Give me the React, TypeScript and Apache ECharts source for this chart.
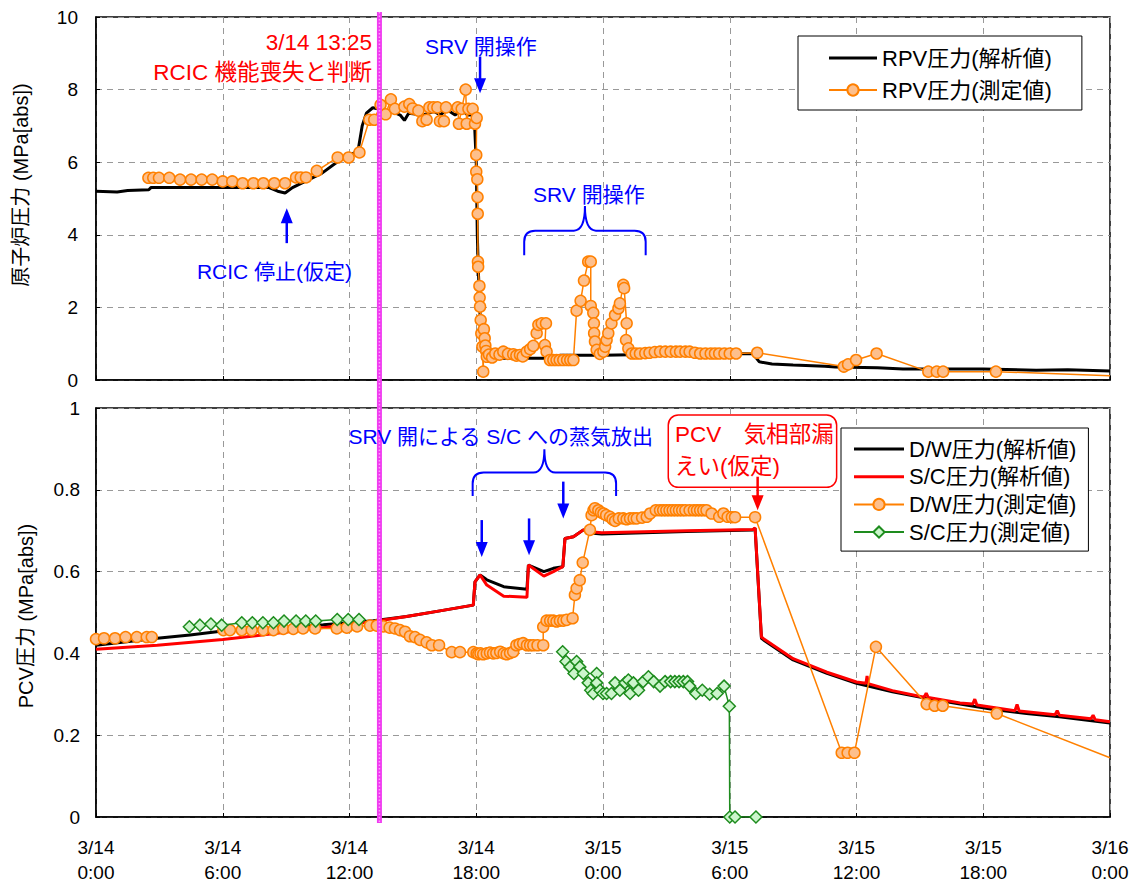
import React, { useEffect, useRef } from "react";
import * as echarts from "echarts";

const FONT = '"Liberation Sans", Arial, "Noto Sans CJK JP", sans-serif';

// x axis: hours since 3/14 0:00
const xTickLabels = [
  "3/14\n0:00", "3/14\n6:00", "3/14\n12:00", "3/14\n18:00",
  "3/15\n0:00", "3/15\n6:00", "3/15\n12:00", "3/15\n18:00", "3/16\n0:00",
];

const seriesNames = {
  rpvA: "RPV圧力(解析値)",
  rpvM: "RPV圧力(測定値)",
  dwA: "D/W圧力(解析値)",
  scA: "S/C圧力(解析値)",
  dwM: "D/W圧力(測定値)",
  scM: "S/C圧力(測定値)",
};

const rpvAnalysis: [number, number][] = [
  [0, 5.2], [1.0, 5.18], [1.5, 5.22], [2.5, 5.24], [2.6, 5.3], [8.2, 5.3], [8.6, 5.2], [8.95, 5.15],
  [9.3, 5.3], [10.0, 5.5], [10.7, 5.7], [11.4, 6.0], [12.0, 6.2], [12.4, 6.3], [12.6, 7.0], [12.8, 7.35],
  [13.1, 7.5], [13.5, 7.45], [14.0, 7.4], [14.4, 7.3], [14.6, 7.15], [14.8, 7.35], [15.5, 7.3], [16.0, 7.4],
  [16.3, 7.3], [16.6, 7.45], [17.0, 7.3], [17.3, 7.45], [17.6, 7.3], [17.9, 7.3], [18.0, 6.0], [18.05, 4.0],
  [18.1, 3.0], [18.2, 1.5], [18.3, 0.8], [18.5, 0.6], [20, 0.6], [21.5, 0.6], [22, 0.68], [24, 0.68],
  [26, 0.7], [28, 0.72], [31.1, 0.72], [31.4, 0.5], [32.0, 0.44], [33, 0.41], [34.5, 0.38], [35.0, 0.36],
  [37, 0.34], [38.2, 0.3], [42, 0.3], [44.5, 0.27], [46, 0.28], [48, 0.25],
];

const rpvMeasured: any[] = [
  [2.48, 5.57], [2.71, 5.57], [2.98, 5.57], [3.47, 5.57], [3.98, 5.52], [4.5, 5.52], [5.0, 5.52], [5.5, 5.52],
  [6.0, 5.47], [6.45, 5.47], [6.94, 5.42], [7.45, 5.42], [7.92, 5.42], [8.44, 5.42], [8.95, 5.42], [9.47, 5.58],
  [9.69, 5.58], [9.94, 5.58], [10.45, 5.76], [11.44, 6.13], [11.96, 6.13], [12.47, 6.27], [12.94, 7.17],
  [13.17, 7.17], [13.47, 7.58], [13.71, 7.32], [13.96, 7.73], [14.15, 7.47], [14.6, 7.53], [14.83, 7.6],
  [14.99, 7.48], [15.26, 7.42], [15.45, 7.13], [15.65, 7.17], [15.78, 7.51], [15.97, 7.51], [16.16, 7.51],
  [16.28, 7.13], [16.47, 7.13], [16.57, 7.51], [17.12, 7.51], [17.18, 7.06], [17.31, 7.47], [17.5, 8.0],
  [17.55, 7.06], [17.63, 7.47], [17.83, 7.47], [17.94, 7.06], [18.02, 7.22], [18.0, 6.2], [18.0, 5.74],
  [18.05, 5.53], [18.06, 5.04], [18.07, 4.58], [18.08, 3.26], [18.09, 3.12], [18.15, 2.59], [18.16, 2.27],
  [18.18, 2.02], [18.21, 1.65], [18.24, 1.28], [18.29, 0.92], [18.33, 0.23], [18.36, 1.4], [18.4, 1.15],
  [18.43, 0.95], [18.47, 0.8], [18.5, 0.64], [18.6, 0.7], [18.75, 0.62], [18.9, 0.73], [19.1, 0.7],
  [19.28, 0.78], [19.5, 0.72], [19.75, 0.71], [19.9, 0.67], [20.07, 0.69], [20.2, 0.65], [20.39, 0.78],
  [20.55, 0.85], [20.7, 0.94], [20.86, 1.29], [20.94, 1.52], [21.1, 1.56], [21.3, 1.56], [21.25, 0.96],
  [21.33, 0.78], [21.49, 0.55], [21.65, 0.55], [21.8, 0.55], [21.95, 0.55], [22.12, 0.55], [22.3, 0.55],
  [22.45, 0.55], [22.6, 0.55], [22.75, 1.91], [22.94, 2.18], [23.1, 2.74], [23.3, 3.26], [23.42, 3.26],
  [23.42, 2.04], [23.54, 1.85], [23.57, 1.56], [23.58, 1.29], [23.62, 1.06], [23.7, 0.83], [23.85, 0.72],
  [24.02, 0.78], [24.1, 0.92], [24.17, 1.1], [24.25, 1.29], [24.4, 1.56], [24.57, 1.79], [24.73, 1.97],
  [24.8, 2.11], [24.96, 2.62], [25.0, 2.53], [25.12, 1.56], [25.09, 1.1], [25.2, 0.87], [25.36, 0.73],
  [25.55, 0.73], [25.75, 0.73], [26.0, 0.74], [26.2, 0.75], [26.45, 0.77], [26.7, 0.78], [26.95, 0.78],
  [27.2, 0.78], [27.45, 0.78], [27.65, 0.78], [27.9, 0.78], [28.1, 0.78], [28.35, 0.75], [28.6, 0.73],
  [28.85, 0.73], [29.1, 0.73], [29.3, 0.73], [29.5, 0.73], [29.75, 0.73], [30.0, 0.73], [30.3, 0.73],
  [31.3, 0.75], [35.4, 0.37], [35.6, 0.43], [35.98, 0.55], [36.95, 0.73], [39.4, 0.23], [39.8, 0.23],
  [40.1, 0.23], [42.6, 0.23], { value: [48, 0.12], symbol: "none" },
];

const dwAnalysis: [number, number][] = [
  [0, 0.42], [2.9, 0.437], [4.45, 0.445], [6.0, 0.455], [8.55, 0.461], [10.76, 0.47], [13.13, 0.48],
  [14.7, 0.49], [16.28, 0.504], [17.86, 0.518], [17.94, 0.575], [18.18, 0.592], [18.5, 0.58], [19.3, 0.563],
  [20.4, 0.557], [20.47, 0.616], [21.2, 0.6], [21.65, 0.608], [22.1, 0.612], [22.2, 0.681], [22.6, 0.685],
  [23.07, 0.702], [23.54, 0.694], [23.94, 0.692], [27.96, 0.698], [31.1, 0.702], [31.2, 0.706], [31.5, 0.437],
  [31.6, 0.433], [33.0, 0.384], [34.6, 0.351], [36.0, 0.327], [37.7, 0.306], [39.3, 0.29], [40.9, 0.276],
  [42.5, 0.263], [44.05, 0.253], [45.6, 0.245], [48, 0.23],
];

const scAnalysis: [number, number][] = [
  [0, 0.41], [2.9, 0.42], [6.0, 0.434], [8.55, 0.449], [10.76, 0.463], [13.13, 0.478], [14.7, 0.49],
  [16.28, 0.504], [17.86, 0.518], [17.94, 0.575], [18.18, 0.592], [18.5, 0.567], [19.3, 0.54], [20.4, 0.537],
  [20.47, 0.616], [21.2, 0.589], [21.65, 0.6], [22.1, 0.612], [22.2, 0.681], [22.6, 0.685], [23.07, 0.702],
  [23.54, 0.697], [23.94, 0.695], [27.96, 0.7], [31.1, 0.703], [31.2, 0.707], [31.5, 0.44], [31.6, 0.436],
  [33.0, 0.387], [34.6, 0.354], [36.0, 0.33], [36.45, 0.327], [36.5, 0.345], [36.55, 0.326], [37.7, 0.309],
  [39.2, 0.293], [39.3, 0.303], [39.4, 0.292], [40.9, 0.279], [41.5, 0.276], [41.6, 0.288], [41.7, 0.274],
  [43.5, 0.26], [43.6, 0.275], [43.7, 0.259], [45.4, 0.25], [45.5, 0.26], [45.6, 0.249], [47.1, 0.24],
  [47.2, 0.249], [47.3, 0.238], [48, 0.233],
];

const dwMeasured: any[] = [
  [0.0, 0.435], [0.38, 0.437], [0.9, 0.437], [1.4, 0.44], [1.93, 0.44], [2.4, 0.44], [2.64, 0.44], [3.0, "-"],
  [6.03, 0.457], [6.34, 0.457], [6.9, 0.457], [7.37, 0.457], [7.92, 0.457], [8.4, 0.457], [8.87, 0.46],
  [9.34, 0.46], [9.8, 0.461], [10.37, 0.461], [11.4, 0.461], [11.87, 0.463], [12.36, 0.466], [12.97, 0.468],
  [13.29, 0.468], [13.6, 0.466], [13.9, 0.463], [14.15, 0.461], [14.39, 0.457], [14.63, 0.453], [14.86, 0.442],
  [15.1, 0.44], [15.34, 0.433], [15.65, 0.427], [15.9, 0.42], [16.24, 0.42], [16.84, 0.403], [17.23, 0.403],
  [17.86, 0.403], [18.02, 0.4], [18.1, 0.398], [18.2, 0.4], [18.33, 0.398], [18.5, 0.4], [18.65, 0.402],
  [18.8, 0.4], [18.95, 0.401], [19.13, 0.404], [19.3, 0.4], [19.44, 0.398], [19.6, 0.401], [19.75, 0.404],
  [19.9, 0.42], [20.05, 0.423], [20.22, 0.425], [20.4, 0.42], [20.55, 0.42], [20.7, 0.42], [20.9, 0.42],
  [21.17, 0.42], [21.17, 0.465], [21.33, 0.48], [21.5, 0.48], [21.65, 0.48], [21.8, 0.478], [21.96, 0.48],
  [22.12, 0.48], [22.28, 0.482], [22.56, 0.486], [22.67, 0.543], [22.75, 0.559], [22.9, 0.579],
  [23.04, 0.622], [23.38, 0.702], [23.46, 0.738], [23.55, 0.75], [23.62, 0.755], [23.78, 0.75],
  [23.9, 0.745], [24.02, 0.742], [24.15, 0.738], [24.33, 0.734], [24.45, 0.728], [24.57, 0.724],
  [24.75, 0.73], [24.96, 0.73], [25.12, 0.728], [25.28, 0.73], [25.45, 0.73], [25.6, 0.73], [25.85, 0.732],
  [26.07, 0.734], [26.23, 0.742], [26.5, 0.75], [26.7, 0.75], [26.85, 0.75], [27.0, 0.75], [27.15, 0.75],
  [27.3, 0.75], [27.45, 0.75], [27.6, 0.75], [27.75, 0.75], [27.9, 0.75], [28.1, 0.75], [28.3, 0.75],
  [28.45, 0.75], [28.6, 0.75], [28.75, 0.75], [28.9, 0.75], [29.14, 0.742], [29.5, 0.734], [29.7, 0.742],
  [29.9, 0.734], [30.1, 0.733], [30.25, 0.733], [31.2, 0.733], [35.3, 0.157], [35.58, 0.157], [35.9, 0.157],
  [36.92, 0.416], [39.32, 0.276], [39.7, 0.272], [40.08, 0.272], [42.64, 0.253],
  { value: [48, 0.145], symbol: "none" },
];

const scMeasured: any[] = [
  [4.42, 0.465], [4.92, 0.469], [5.44, 0.472], [5.95, 0.469], [6.9, 0.475], [7.4, 0.475], [7.9, 0.475],
  [8.4, 0.475], [8.9, 0.479], [9.47, 0.479], [9.93, 0.479], [10.4, 0.479], [11.42, 0.483], [11.94, 0.483],
  [12.45, 0.483], [12.6, "-"],
  [22.09, 0.404], [22.25, 0.38], [22.44, 0.367], [22.63, 0.351], [22.75, 0.38], [22.9, 0.367], [23.07, 0.351],
  [23.3, 0.328], [23.42, 0.31], [23.54, 0.302], [23.7, 0.351], [23.7, 0.328], [23.86, 0.31], [24.0, 0.302],
  [24.17, 0.302], [24.4, 0.302], [24.57, 0.328], [24.8, 0.31], [25.04, 0.328], [25.2, 0.335], [25.28, 0.302],
  [25.44, 0.328], [25.68, 0.31], [25.9, 0.331], [26.15, 0.343], [26.4, 0.331], [26.7, 0.32], [26.94, 0.331],
  [27.2, 0.331], [27.4, 0.331], [27.6, 0.331], [27.8, 0.331], [28.0, 0.331], [28.1, 0.32], [28.4, 0.302],
  [28.7, 0.31], [29.05, 0.3], [29.4, 0.302], [29.73, 0.32], [29.98, 0.271], [30.0, 0], [30.25, 0], [31.24, 0],
];

// annotation anchors in data coordinates [hours, value]
const magentaHour = 13.417;

function makeBrace(w: number, h: number): string {
  const m = h / 2;
  const cx = w / 2;
  const r = 11;
  return (
    `M0 ${h} L0 ${m + r} Q0 ${m} ${r} ${m} L${cx - r} ${m} Q${cx} ${m} ${cx} 0 ` +
    `Q${cx} ${m} ${cx + r} ${m} L${w - r} ${m} Q${w} ${m} ${w} ${m + r} L${w} ${h}`
  );
}

const lineIcon = "path://M0,0 L48,0 L48,3 L0,3 Z";

export default function App() {
  const ref = useRef<HTMLDivElement>(null);

  useEffect(() => {
    const chart = echarts.init(ref.current!, null, { renderer: "svg" });

    const axisLine = { show: true, lineStyle: { color: "#000", width: 1.5 } };
    const axisTick = { show: true, inside: true, length: 4, lineStyle: { color: "#000", width: 1 } };
    const splitLine = { show: true, lineStyle: { color: "#999", width: 1, type: [6, 5] } };
    const labelStyle = { color: "#000", fontSize: 19, fontFamily: FONT };

    const option: any = {
      animation: false,
      backgroundColor: "#fff",
      grid: [
        { left: 96, top: 17, width: 1014, height: 363, show: true, borderColor: "#000", borderWidth: 1.5 },
        { left: 96, top: 408, width: 1014, height: 409, show: true, borderColor: "#000", borderWidth: 1.5 },
      ],
      xAxis: [
        {
          type: "value", gridIndex: 0, min: 0, max: 48, interval: 6,
          axisLine, axisTick, splitLine, axisLabel: { show: false },
        },
        {
          type: "value", gridIndex: 1, min: 0, max: 48, interval: 6,
          axisLine, axisTick, splitLine,
          axisLabel: {
            ...labelStyle, lineHeight: 25, margin: 18,
            formatter: (v: number) => xTickLabels[Math.round(v / 6)],
          },
        },
      ],
      yAxis: [
        {
          type: "value", gridIndex: 0, min: 0, max: 10, interval: 2,
          axisLine, axisTick, splitLine, axisLabel: { ...labelStyle, margin: 18 },
        },
        {
          type: "value", gridIndex: 1, min: 0, max: 1, interval: 0.2,
          axisLine, axisTick, splitLine, axisLabel: { ...labelStyle, margin: 16 },
        },
      ],
      legend: [
        {
          data: [{ name: seriesNames.rpvA, icon: lineIcon }, seriesNames.rpvM],
          orient: "vertical", left: 798, top: 36,
          itemWidth: 48, itemHeight: 14, itemGap: 10,
          padding: [11, 30, 9, 30],
          backgroundColor: "#fff", borderColor: "#000", borderWidth: 1, borderRadius: 0,
          textStyle: { fontSize: 22, lineHeight: 22, color: "#000", fontFamily: FONT },
          selectedMode: false,
        },
        {
          data: [
            { name: seriesNames.dwA, icon: lineIcon },
            { name: seriesNames.scA, icon: lineIcon },
            seriesNames.dwM,
            seriesNames.scM,
          ],
          orient: "vertical", left: 841, top: 428,
          itemWidth: 50, itemHeight: 14, itemGap: 5.7,
          padding: [10, 12, 8, 12],
          backgroundColor: "#fff", borderColor: "#000", borderWidth: 1, borderRadius: 0,
          textStyle: { fontSize: 22, lineHeight: 22, color: "#000", fontFamily: FONT },
          selectedMode: false,
        },
      ],
      series: [
        {
          name: seriesNames.rpvA, type: "line", xAxisIndex: 0, yAxisIndex: 0, data: rpvAnalysis,
          symbol: "none", showSymbol: false, lineStyle: { color: "#000", width: 3 },
          itemStyle: { color: "#000" }, z: 2, silent: true,
        },
        {
          name: seriesNames.rpvM, type: "line", xAxisIndex: 0, yAxisIndex: 0, data: rpvMeasured,
          symbol: "circle", symbolSize: 11, showAllSymbol: true,
          lineStyle: { color: "#ff8000", width: 1.5 },
          itemStyle: { color: "#fdbf8c", borderColor: "#ff8000", borderWidth: 1.5 }, z: 3, silent: true,
        },
        {
          name: seriesNames.dwA, type: "line", xAxisIndex: 1, yAxisIndex: 1, data: dwAnalysis,
          symbol: "none", showSymbol: false, lineStyle: { color: "#000", width: 3 },
          itemStyle: { color: "#000" }, z: 2, silent: true,
        },
        {
          name: seriesNames.scA, type: "line", xAxisIndex: 1, yAxisIndex: 1, data: scAnalysis,
          symbol: "none", showSymbol: false, lineStyle: { color: "#ff0000", width: 3 },
          itemStyle: { color: "#ff0000" }, z: 3, silent: true,
        },
        {
          name: seriesNames.dwM, type: "line", xAxisIndex: 1, yAxisIndex: 1, data: dwMeasured,
          symbol: "circle", symbolSize: 11, showAllSymbol: true, connectNulls: false,
          lineStyle: { color: "#ff8000", width: 1.5 },
          itemStyle: { color: "#fdbf8c", borderColor: "#ff8000", borderWidth: 1.5 }, z: 4, silent: true,
        },
        {
          name: seriesNames.scM, type: "line", xAxisIndex: 1, yAxisIndex: 1, data: scMeasured,
          symbol: "diamond", symbolSize: 12, showAllSymbol: true, connectNulls: false,
          lineStyle: { color: "#1e8c1e", width: 1.5 },
          itemStyle: { color: "#ccf5cc", borderColor: "#1e8c1e", borderWidth: 1.5 }, z: 5, silent: true,
        },
      ],
    };

    chart.setOption(option);

    const px = (g: number, x: number, y: number) =>
      chart.convertToPixel({ gridIndex: g } as any, [x, y]) as number[];

    const textEl = (g: number, x: number, y: number, text: string, color: string, align = "center", size = 21) => {
      const [tx, ty] = px(g, x, y);
      return {
        type: "text", x: tx, y: ty, z: 100,
        style: { text, fill: color, fontSize: size, fontFamily: FONT, align, verticalAlign: "middle" },
      };
    };

    const arrow = (g: number, x: number, yFrom: number, yTo: number, color: string) => {
      const [ax, ay1] = px(g, x, yFrom);
      const [, ay2] = px(g, x, yTo);
      const dir = ay2 > ay1 ? 1 : -1;
      return [
        { type: "line", z: 100, shape: { x1: ax, y1: ay1, x2: ax, y2: ay2 - dir * 10 }, style: { stroke: color, lineWidth: 2.5 } },
        {
          type: "polygon", z: 100,
          shape: { points: [[ax - 6, ay2 - dir * 15], [ax + 6, ay2 - dir * 15], [ax, ay2]] },
          style: { fill: color },
        },
      ];
    };

    const brace = (name: string, g: number, x1: number, x2: number, yTip: number, yEnd: number) => {
      const [bx1, by0] = px(g, x1, yTip);
      const [bx2, by1] = px(g, x2, yEnd);
      const d = makeBrace(bx2 - bx1, by1 - by0);
      echarts.graphic.registerShape(name, echarts.graphic.extendPath(d, {}) as any);
      return { type: name, x: bx1, y: by0, z: 100, style: { stroke: "#0000ff", fill: "none", lineWidth: 2 } };
    };

    const [mx, mTop] = px(0, magentaHour, 10);
    const [, mBottom] = px(1, magentaHour, 0);
    const [rbx1, rby1] = px(1, 27.09, 0.983);
    const [rbx2, rby2] = px(1, 35.06, 0.806);

    const blue = "#0000ff";
    const red = "#ff0000";

    const graphics: any[] = [
      {
        type: "line", z: 90,
        shape: { x1: mx, y1: mTop - 5, x2: mx, y2: mBottom + 6 },
        style: { stroke: "#f03cf0", lineWidth: 5 },
      },
      {
        type: "line", z: 91,
        shape: { x1: mx, y1: mTop - 5, x2: mx, y2: mBottom + 6 },
        style: { stroke: "#ff99ff", lineWidth: 1.5, lineDash: [1.5, 2] },
      },
      textEl(0, 13.07, 9.31, "3/14 13:25", red, "right", 22.5),
      textEl(0, 13.07, 8.48, "RCIC 機能喪失と判断", red, "right", 22.5),
      textEl(0, 18.22, 9.2, "SRV 開操作", blue, "center"),
      ...arrow(0, 18.18, 8.91, 7.9, blue),
      textEl(0, 8.45, 2.98, "RCIC 停止(仮定)", blue, "center"),
      ...arrow(0, 9.03, 3.77, 4.73, blue),
      textEl(0, 23.33, 5.1, "SRV 開操作", blue, "center"),
      brace("braceTop", 0, 20.27, 26.02, 4.79, 3.44),
      textEl(1, 19.16, 0.93, "SRV 開による S/C への蒸気放出", blue, "center"),
      brace("braceBottom", 1, 17.83, 24.62, 0.899, 0.785),
      ...arrow(1, 18.26, 0.726, 0.636, blue),
      ...arrow(1, 20.5, 0.73, 0.64, blue),
      ...arrow(1, 22.12, 0.82, 0.73, blue),
      {
        type: "rect", z: 95,
        shape: { x: rbx1, y: rby1, width: rbx2 - rbx1, height: rby2 - rby1, r: 10 },
        style: { fill: "#fff", stroke: red, lineWidth: 1.5 },
      },
      textEl(1, 27.41, 0.934, "PCV　気相部漏", red, "left", 22.5),
      textEl(1, 27.41, 0.857, "えい(仮定)", red, "left", 22.5),
      ...arrow(1, 31.32, 0.832, 0.75, red),
      {
        type: "text", x: 21, y: 185, rotation: Math.PI / 2, z: 100,
        style: { text: "原子炉圧力 (MPa[abs])", fill: "#000", fontSize: 20, fontFamily: FONT, align: "center", verticalAlign: "middle" },
      },
      {
        type: "text", x: 26, y: 616, rotation: Math.PI / 2, z: 100,
        style: { text: "PCV圧力 (MPa[abs])", fill: "#000", fontSize: 20, fontFamily: FONT, align: "center", verticalAlign: "middle" },
      },
    ];

    chart.setOption({ graphic: graphics });

    return () => {
      chart.dispose();
    };
  }, []);

  return <div ref={ref} style={{ position: "absolute", left: 0, top: 0, width: 1138, height: 888 }} />;
}
